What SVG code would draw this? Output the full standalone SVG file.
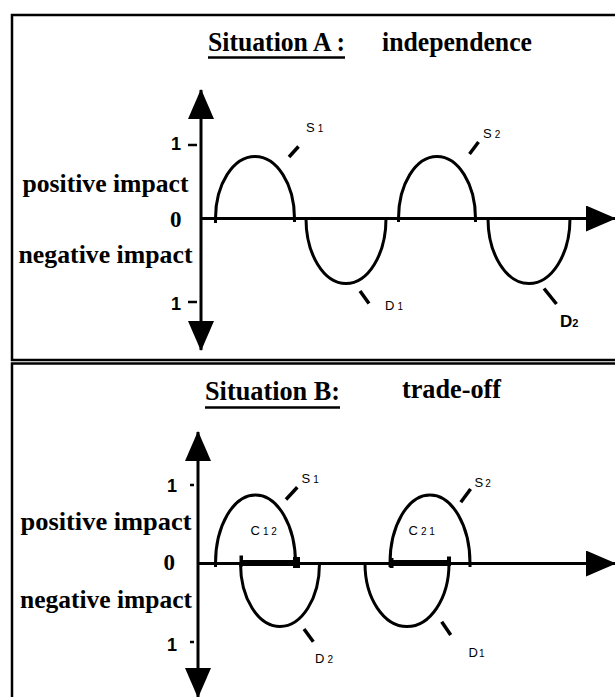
<svg xmlns="http://www.w3.org/2000/svg" width="615" height="697" viewBox="0 0 615 697">
<style>
.frame{fill:none;stroke:#000;stroke-width:2.5}
.axis{fill:none;stroke:#000;stroke-width:3}
.curve{fill:none;stroke:#000;stroke-width:3}
.ptr{stroke:#000;stroke-width:3.5;stroke-linecap:butt}
.tick{stroke:#000;stroke-width:2.5}
.title{font-family:"Liberation Serif",serif;font-weight:bold;font-size:27px}
.ax{font-family:"Liberation Serif",serif;font-weight:bold;font-size:26px}
.zero{font-family:"Liberation Serif",serif;font-weight:bold;font-size:23px}
.one{font-family:"Liberation Sans",sans-serif;font-weight:bold;font-size:18px;text-anchor:middle}
.lab{font-family:"Liberation Sans",sans-serif;font-size:13px}
.sub{font-size:10px}
.labb{font-family:"Liberation Sans",sans-serif;font-weight:bold;font-size:17px}
</style>
<defs>
<marker id="arr" markerUnits="userSpaceOnUse" markerWidth="30" markerHeight="26" refX="29" refY="13" orient="auto-start-reverse">
<path d="M0,0 L30,13 L0,26 Z" fill="#000"/>
</marker>
</defs>
<rect width="615" height="697" fill="#fff"/>

<g id="panelA">
<rect class="frame" x="12" y="15" width="620" height="345"/>
<g id="titleA">
<text class="title" x="208" y="51" textLength="137" lengthAdjust="spacingAndGlyphs">Situation A :</text>
<line x1="208" y1="57.5" x2="345" y2="57.5" stroke="#000" stroke-width="2.5"/>
<text class="title" x="382" y="51" textLength="150" lengthAdjust="spacingAndGlyphs">independence</text>
</g>
<g id="axisLabelsA">
<text class="one" x="176" y="150">1</text>
<line class="tick" x1="188" y1="145" x2="197" y2="145"/>
<text class="ax" x="22.5" y="192" textLength="166" lengthAdjust="spacingAndGlyphs">positive impact</text>
<text class="zero" x="170" y="226.5" textLength="11.5" lengthAdjust="spacingAndGlyphs">0</text>
<text class="ax" x="18.5" y="263" textLength="174" lengthAdjust="spacingAndGlyphs">negative impact</text>
<text class="one" x="176" y="310">1</text>
<line class="tick" x1="188" y1="302" x2="197" y2="302"/>
</g>
<g id="axesA">
<line class="axis" x1="201" y1="90" x2="201" y2="350" marker-start="url(#arr)" marker-end="url(#arr)"/>
<line class="axis" x1="201" y1="218.5" x2="615" y2="218.5" marker-end="url(#arr)"/>
</g>
<g id="S1A">
<path class="curve" d="M215.5,223 V218.5 A39.5,62 0 0 1 294.5,218.5 V222"/>
<line class="ptr" x1="289" y1="157" x2="298.5" y2="146.5"/>
<text class="lab" x="306" y="131.5">S<tspan class="sub" dx="3">1</tspan></text>
</g>
<g id="D1A">
<path class="curve" d="M306,218.5 A40,65 0 0 0 386,218.5"/>
<line class="ptr" x1="360" y1="291" x2="369" y2="303.5"/>
<text class="lab" x="385" y="309.5">D<tspan class="sub" dx="3">1</tspan></text>
</g>
<g id="S2A">
<path class="curve" d="M398.5,222 V218.5 A38.5,62 0 0 1 475.5,218.5 V222"/>
<line class="ptr" x1="469.5" y1="154" x2="478.5" y2="142"/>
<text class="lab" x="483" y="138" font-size="11">S<tspan class="sub" dx="3">2</tspan></text>
</g>
<g id="D2A">
<path class="curve" d="M488,218.5 A41,65 0 0 0 570,218.5"/>
<line class="ptr" x1="544" y1="288.5" x2="556.5" y2="304"/>
<text class="labb" x="560" y="327">D<tspan font-size="11">2</tspan></text>
</g>
</g>

<g id="panelB">
<rect class="frame" x="12" y="363.5" width="620" height="350"/>
<g id="titleB">
<text class="title" x="205" y="400" textLength="135" lengthAdjust="spacingAndGlyphs">Situation B:</text>
<line x1="205" y1="407.5" x2="340" y2="407.5" stroke="#000" stroke-width="2.5"/>
<text class="title" x="402" y="398" textLength="99" lengthAdjust="spacingAndGlyphs">trade-off</text>
</g>
<g id="axisLabelsB">
<text class="one" x="172" y="492">1</text>
<line class="tick" x1="190" y1="485" x2="194" y2="485"/>
<text class="ax" x="20.5" y="530" textLength="171" lengthAdjust="spacingAndGlyphs">positive impact</text>
<text class="zero" x="163.5" y="569.5" textLength="11.5" lengthAdjust="spacingAndGlyphs">0</text>
<text class="ax" x="20" y="608" textLength="172" lengthAdjust="spacingAndGlyphs">negative impact</text>
<text class="one" x="172" y="651">1</text>
<line class="tick" x1="190" y1="642" x2="194" y2="642"/>
</g>
<g id="axesB">
<line class="axis" x1="198" y1="432" x2="198" y2="697" marker-start="url(#arr)" marker-end="url(#arr)"/>
<line class="axis" x1="198" y1="563.5" x2="615" y2="563.5" marker-end="url(#arr)"/>
</g>
<g id="C12">
<line stroke="#000" stroke-width="6" x1="240" y1="563" x2="300" y2="563"/>
<rect x="239.5" y="555.5" width="3.5" height="11" fill="#000"/>
<rect x="293" y="557" width="7" height="11" fill="#000"/>
<text class="lab" x="250.5" y="535">C<tspan class="sub" dx="3">1 2</tspan></text>
</g>
<g id="C21">
<line stroke="#000" stroke-width="6" x1="389" y1="563" x2="451" y2="563"/>
<rect x="389.5" y="558" width="4" height="10" fill="#000"/>
<rect x="447" y="556.5" width="4" height="9" fill="#000"/>
<text class="lab" x="408.5" y="535">C<tspan class="sub" dx="3">2 1</tspan></text>
</g>
<g id="S1B">
<path class="curve" d="M215.5,567 V563.5 A40,68.5 0 0 1 295.5,563.5"/>
<line class="ptr" x1="286" y1="499.5" x2="297.3" y2="487.3"/>
<text class="lab" x="301.5" y="482.5">S<tspan class="sub" dx="3">1</tspan></text>
</g>
<g id="D2B">
<path class="curve" d="M240.5,563.5 A39.5,63 0 0 0 319.5,563.5"/>
<line class="ptr" x1="304" y1="629" x2="313.3" y2="641.7"/>
<text class="lab" x="315" y="662.5">D<tspan class="sub" dx="3">2</tspan></text>
</g>
<g id="D1B">
<path class="curve" d="M365,563.5 A42,63 0 0 0 449,563.5"/>
<line class="ptr" x1="441.7" y1="621.7" x2="450.7" y2="635"/>
<text class="lab" x="468.5" y="656.5">D<tspan class="sub" dx="1">1</tspan></text>
</g>
<g id="S2B">
<path class="curve" d="M390,567 V563.5 A40,68.5 0 0 1 470,563.5 V567"/>
<line class="ptr" x1="460.8" y1="502.3" x2="470.6" y2="489"/>
<text class="lab" x="474.5" y="486.5">S<tspan class="sub" dx="2">2</tspan></text>
</g>
</g>
</svg>
